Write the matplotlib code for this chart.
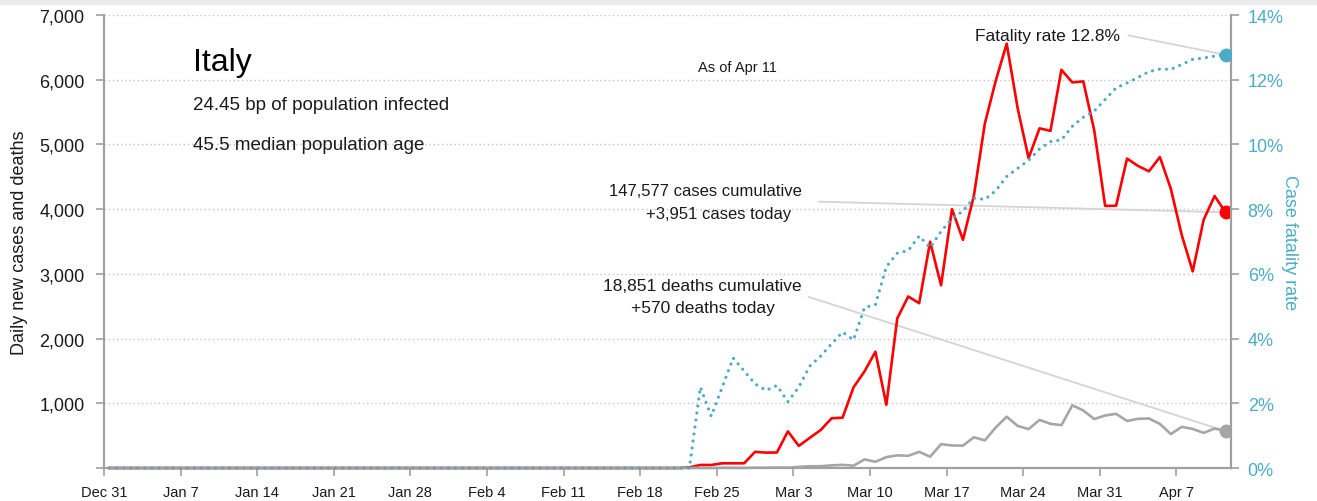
# -*- coding: utf-8 -*-
"""Italy: daily new cases/deaths and case fatality rate, as of Apr 11."""
import pandas as pd
import matplotlib
matplotlib.use('Agg')
from matplotlib import pyplot as plt
from matplotlib.patches import Rectangle

plt.rcParams['font.family'] = ['Liberation Sans', 'DejaVu Sans']

# one value per day, Dec 31 .. Apr 11 (nothing reported before Feb 22)
dates = pd.date_range('2019-12-31', '2020-04-11', freq='D')
pre_outbreak = [0] * 53
new_cases = pre_outbreak + [
    10, 47, 47, 73, 73, 73, 250, 238, 240, 566, 342, 466, 587, 769, 778,
    1247, 1492, 1797, 977, 2313, 2651, 2547, 3497, 2823, 4000, 3526, 4207,
    5322, 5986, 6557, 5560, 4789, 5249, 5210, 6153, 5959, 5974, 5217, 4050,
    4053, 4782, 4668, 4585, 4805, 4316, 3599, 3039, 3836, 4204, 3951]
new_deaths = pre_outbreak + [
    0, 2, 1, 4, 3, 2, 5, 4, 8, 5, 18, 27, 28, 41, 49, 36, 133, 97, 168, 196,
    189, 250, 175, 368, 349, 345, 475, 427, 627, 793, 651, 601, 743, 683,
    662, 969, 889, 756, 812, 837, 727, 760, 766, 681, 525, 636, 604, 542,
    610, 570]
fatality_pct = pre_outbreak + [
    0.0, 2.5, 1.6, 2.5, 3.4, 3.0, 2.6, 2.4, 2.55, 2.05, 2.5, 3.15, 3.46,
    3.84, 4.2, 3.96, 4.96, 5.05, 6.22, 6.64, 6.72, 7.17, 6.81, 7.31, 7.71,
    7.94, 8.34, 8.30, 8.57, 9.01, 9.26, 9.51, 9.86, 10.09, 10.14, 10.56,
    10.84, 11.03, 11.39, 11.75, 11.90, 12.07, 12.25, 12.33, 12.32, 12.47,
    12.63, 12.67, 12.73, 12.77]

tick_dates = pd.date_range('2019-12-31', '2020-04-07', freq='7D')
tick_labels = ['Dec 31', 'Jan 7', 'Jan 14', 'Jan 21', 'Jan 28', 'Feb 4',
               'Feb 11', 'Feb 18', 'Feb 25', 'Mar 3', 'Mar 10', 'Mar 17',
               'Mar 24', 'Mar 31', 'Apr 7']
left_ticks = [0, 1000, 2000, 3000, 4000, 5000, 6000, 7000]
left_labels = ['', '1,000', '2,000', '3,000', '4,000', '5,000', '6,000',
               '7,000']
right_ticks = [0, 2, 4, 6, 8, 10, 12, 14]

RED = '#ff0000'
GREY = '#a6a6a6'
BLUE = '#4bacc6'
SPINE = '#a0a0a0'
TEXT = '#1a1a1a'
LEADER = '#d4d4d4'

# each day is drawn in the middle of its slot
xmid = dates + pd.Timedelta(hours=12)

fig = plt.figure(figsize=(13.17, 5.02), dpi=100)
fig.patches.append(Rectangle((0, 0.99), 1, 0.01, transform=fig.transFigure,
                             color='#ececec', zorder=0))
ax = fig.add_axes([0.079, 0.0657, 0.8557, 0.9024])
ax2 = ax.twinx()

ax.plot(xmid, new_cases, color=RED, lw=1.9, zorder=3, clip_on=False)
ax.plot(xmid, new_deaths, color=GREY, lw=1.9, zorder=4, clip_on=False)
ax2.plot(xmid, fatality_pct, color=BLUE, lw=2.3, linestyle=(0, (0.01, 2.2)),
         dash_capstyle='round', zorder=3, clip_on=False)
ax.plot(xmid[-1], new_deaths[-1], 'o', color=GREY, ms=9, zorder=5)
ax.plot(xmid[-1], new_cases[-1], 'o', color=RED, ms=9, zorder=5)
ax2.plot(xmid[-1], fatality_pct[-1], 'o', color=BLUE, ms=9, zorder=5)

ax.set_xlim(dates[0], dates[-1] + pd.Timedelta(days=1))
ax.set_ylim(0, 7000)
ax2.set_ylim(0, 14)

ax.set_xticks(tick_dates)
ax.set_xticklabels(tick_labels)
ax.set_yticks(left_ticks)
ax.set_yticklabels(left_labels)
ax2.set_yticks(right_ticks)
ax2.set_yticklabels(['{}%'.format(v) for v in right_ticks])

ax.yaxis.grid(True, linestyle=(0, (1, 2)), color='#c4c4c4', lw=1)
ax.set_axisbelow(True)
for a in (ax, ax2):
    a.spines['top'].set_visible(False)
    for side in ('left', 'right', 'bottom'):
        a.spines[side].set_color(SPINE)
        a.spines[side].set_linewidth(1.5)
ax.tick_params(axis='x', direction='out', length=6, width=1.2, color=SPINE,
               labelsize=10.5, labelcolor=TEXT, pad=6)
ax.tick_params(axis='y', direction='out', length=6, width=1.2, color=SPINE,
               labelsize=13, labelcolor=TEXT, pad=8)
ax2.tick_params(axis='y', direction='out', length=6, width=1.2, color=SPINE,
                labelsize=13, labelcolor=BLUE, pad=6)

ax.set_ylabel('Daily new cases and deaths', fontsize=13, color=TEXT,
              labelpad=8)
ax2.set_ylabel('Case fatality rate', fontsize=13, color=BLUE, rotation=270,
               labelpad=10)

# headline texts
ax.text(0.079, 0.896, 'Italy', transform=ax.transAxes, fontsize=23,
        color='black', va='center')
ax.text(0.079, 0.803, '24.45 bp of population infected',
        transform=ax.transAxes, fontsize=13.5, color=TEXT, va='center')
ax.text(0.079, 0.715, '45.5 median population age',
        transform=ax.transAxes, fontsize=13.5, color=TEXT, va='center')
ax.text(0.5617, 0.885, 'As of Apr 11', transform=ax.transAxes, fontsize=10.5,
        color=TEXT, ha='center', va='center')

# labels with leader lines to the latest values
leader = dict(arrowstyle='-', color=LEADER, lw=1.3, shrinkA=0, shrinkB=0)
ax2.annotate('', xy=(xmid[-1], fatality_pct[-1]), xytext=(0.909, 0.955),
             textcoords='axes fraction', arrowprops=leader, zorder=2)
ax.text(0.9015, 0.955, 'Fatality rate 12.8%', transform=ax.transAxes,
        fontsize=12.5, color=TEXT, ha='right', va='center')

ax.annotate('', xy=(xmid[-1], new_cases[-1]), xytext=(0.634, 0.588),
            textcoords='axes fraction', arrowprops=leader, zorder=2)
ax.text(0.534, 0.612, '147,577 cases cumulative', transform=ax.transAxes,
        fontsize=12, color=TEXT, ha='center', va='center')
ax.text(0.545, 0.561, '+3,951 cases today', transform=ax.transAxes,
        fontsize=12, color=TEXT, ha='center', va='center')

ax.annotate('', xy=(xmid[-1], new_deaths[-1]), xytext=(0.625, 0.378),
            textcoords='axes fraction', arrowprops=leader, zorder=2)
ax.text(0.531, 0.404, '18,851 deaths cumulative', transform=ax.transAxes,
        fontsize=12.5, color=TEXT, ha='center', va='center')
ax.text(0.531, 0.355, '+570 deaths today', transform=ax.transAxes,
        fontsize=12.5, color=TEXT, ha='center', va='center')

fig.savefig('out.png', dpi=100)
